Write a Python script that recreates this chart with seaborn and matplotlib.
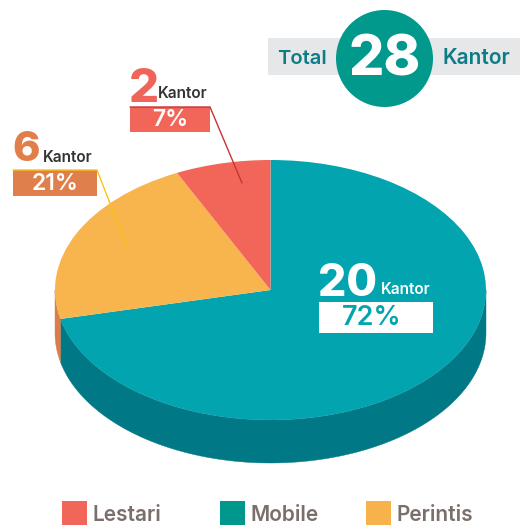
import numpy as np
import matplotlib
matplotlib.use("Agg")
import matplotlib.pyplot as plt
import seaborn as sns
from matplotlib.patches import Rectangle, Circle
from matplotlib.transforms import Affine2D

# Office counts per program
categories = ['Mobile', 'Perintis', 'Lestari']
counts = [20, 6, 2]
percent_labels = ['72%', '21%', '7%']
total = 28
legend_order = ['Lestari', 'Mobile', 'Perintis']

top_colors = {'Mobile': '#02A4B0', 'Perintis': '#F8B44D', 'Lestari': '#F2665A'}
side_colors = {'Mobile': '#007885', 'Perintis': '#DB7D4B', 'Lestari': '#D4503F'}
legend_colors = {'Lestari': '#F26659', 'Mobile': '#00978D', 'Perintis': '#F8B24C'}

sns.set_theme(style='white')
plt.rcParams['font.family'] = ['Inter', 'DejaVu Sans']

W, H = 520, 525
fig = plt.figure(figsize=(W / 100, H / 100), dpi=100)
ax = fig.add_axes([0, 0, 1, 1])

# top face of the pie
wedges, _ = ax.pie(counts, colors=[top_colors[c] for c in categories],
                   startangle=90, counterclock=False,
                   wedgeprops=dict(linewidth=0))
ax.set_aspect('auto')
ax.set_xlim(0, W)
ax.set_ylim(H, 0)
ax.axis('off')

# squash the pie into an ellipse (pixel layout)
cx, cy, a, b, depth = 270.5, 290, 215.5, 130, 43
ell = Affine2D().scale(a, -b).translate(cx, cy) + ax.transData
for w in wedges:
    w.set_transform(ell)
    w.set_zorder(3)

# side walls: only the front half (180..360 deg) is visible
for w, cat in zip(wedges, categories):
    t1, t2 = w.theta1, w.theta2
    shift = -360 * np.floor(t1 / 360)
    t1, t2 = t1 + shift, t2 + shift
    for lo, hi in [(180, 360), (540, 720)]:
        s, e = max(t1, lo), min(t2, hi)
        if e > s:
            t = np.radians(np.linspace(s, e, 120))
            xs = cx + a * np.cos(t)
            ys = cy - b * np.sin(t)
            ax.fill(np.r_[xs, xs[::-1]], np.r_[ys, ys[::-1] + depth],
                    color=side_colors[cat], lw=0.3, ec=side_colors[cat], zorder=2)

# header: Total 28 Kantor
ax.add_patch(Rectangle((268, 38), 252, 37, color='#E6E7E8', lw=0, zorder=1))
ax.add_patch(Circle((384.5, 58.5), 48.5, color='#00998C', lw=0, zorder=2))
ax.text(384.5, 76, str(total), color='white', fontsize=40, fontweight='heavy',
        ha='center', va='baseline', zorder=4)
ax.text(277, 64, 'Total', color='#0E7C86', fontsize=14.5, fontweight='semibold',
        ha='left', va='baseline', zorder=4)
ax.text(442, 64, 'Kantor', color='#0E7C86', fontsize=15, fontweight='semibold',
        ha='left', va='baseline', zorder=4)

# Mobile label (inside the pie)
ax.text(318, 296, str(counts[0]), color='white', fontsize=32, fontweight='heavy',
        ha='left', va='baseline', zorder=5)
ax.text(381, 294, 'Kantor', color='white', fontsize=11, fontweight='semibold',
        ha='left', va='baseline', zorder=5)
ax.add_patch(Rectangle((319, 302), 114, 31, color='white', lw=0, zorder=4))
ax.text(372, 318, percent_labels[0], color=top_colors['Mobile'], fontsize=19.5,
        fontweight='semibold', ha='center', va='center', zorder=5)

# Lestari label
ax.text(129, 102, str(counts[2]), color='#F0655A', fontsize=34, fontweight='heavy',
        ha='left', va='baseline', zorder=5)
ax.text(158, 98, 'Kantor', color='#333333', fontsize=11, fontweight='semibold',
        ha='left', va='baseline', zorder=5)
ax.add_patch(Rectangle((130, 107), 80, 25, color='#F2665A', lw=0, zorder=4))
ax.text(170, 120, percent_labels[2], color='white', fontsize=16.5,
        fontweight='semibold', ha='center', va='center', zorder=5)
ax.plot([130, 210, 242], [107, 107, 183], color='#C8323A', lw=1, zorder=6)

# Perintis label
ax.text(12, 161, str(counts[1]), color='#E07F4A', fontsize=30, fontweight='heavy',
        ha='left', va='baseline', zorder=5)
ax.text(43, 162, 'Kantor', color='#333333', fontsize=11, fontweight='semibold',
        ha='left', va='baseline', zorder=5)
ax.add_patch(Rectangle((13, 170), 84, 26, color='#DF7F4C', lw=0, zorder=4))
ax.text(55, 184, percent_labels[1], color='white', fontsize=16.5,
        fontweight='semibold', ha='center', va='center', zorder=5)
ax.plot([13, 97, 127], [170, 170, 247], color='#F9C416', lw=1, zorder=6)

# legend along the bottom
legend_x = [62, 220, 366]
for x, cat in zip(legend_x, legend_order):
    ax.add_patch(Rectangle((x, 501), 25, 25, color=legend_colors[cat], lw=0, zorder=4))
    ax.text(x + 31, 521, cat, color='#7B6F6C', fontsize=15, fontweight='semibold',
            ha='left', va='baseline', zorder=5)

fig.savefig('out.png', dpi=100)
